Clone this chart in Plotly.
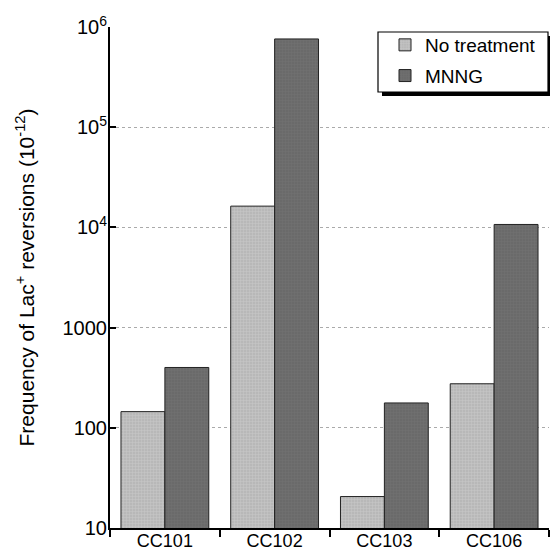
import plotly.graph_objects as go

categories = ["CC101", "CC102", "CC103", "CC106"]
no_treatment = [145, 16300, 20.6, 275]
mnng = [400, 760000, 177, 10700]
ytick_vals = [10, 100, 1000, 1e4, 1e5, 1e6]
ytick_text = ["10", "100", "1000", "10<sup>4</sup>", "10<sup>5</sup>", "10<sup>6</sup>"]

fig = go.Figure()
fig.add_trace(go.Bar(
    x=categories, y=no_treatment, name="No treatment", legendgroup="a",
    marker=dict(color="#b8b8b8", line=dict(color="#222", width=1),
                pattern=dict(shape="+", size=3, fgcolor="#d8d8d8", solidity=0.3)),
))
fig.add_trace(go.Bar(
    x=categories, y=mnng, name="MNNG", legendgroup="b",
    marker=dict(color="#6a6a6a", line=dict(color="#222", width=1),
                pattern=dict(shape="+", size=3, fgcolor="#7a7a7a", solidity=0.3)),
))

L, R, T, B = 110, 1, 27, 28
W, H = 550, 556
pw, ph = W - L - R, H - T - B

def px2x(px):
    return (px - L) / pw

def py2y(py):
    return (H - B - py) / ph

# legend box with shadow
fig.add_shape(type="rect", xref="paper", yref="paper",
              x0=px2x(382), x1=px2x(552), y0=py2y(96), y1=py2y(36),
              fillcolor="black", line=dict(width=0), layer="above")
fig.add_shape(type="rect", xref="paper", yref="paper",
              x0=px2x(378), x1=px2x(548), y0=py2y(92), y1=py2y(32),
              fillcolor="white", line=dict(color="black", width=1.2), layer="above")

fig.update_layout(
    width=W, height=H,
    margin=dict(l=L, r=R, t=T, b=B),
    paper_bgcolor="white", plot_bgcolor="white",
    barmode="group", bargap=0.2, bargroupgap=0,
    font=dict(family="Liberation Sans, Arial, sans-serif", color="black"),
    showlegend=True,
    legend=dict(x=px2x(385), y=py2y(26), xanchor="left", yanchor="top",
                bgcolor="rgba(0,0,0,0)", borderwidth=0,
                font=dict(size=19), itemwidth=30, tracegroupgap=3,
                traceorder="grouped"),
)
fig.update_xaxes(
    showline=True, linecolor="black", linewidth=2, automargin=False,
    ticks="outside", tickson="boundaries", ticklen=7, tickwidth=2, tickcolor="black",
    tickfont=dict(size=18), ticklabelstandoff=-5, showgrid=False, mirror=False,
)
fig.update_yaxes(
    type="log", range=[1, 6], automargin=False,
    tickvals=ytick_vals, ticktext=ytick_text,
    showline=True, linecolor="black", linewidth=2,
    ticks="inside", ticklen=6, tickwidth=2, tickcolor="black",
    tickfont=dict(size=20), ticklabelstandoff=-3,
    showgrid=True, gridcolor="#aaaaaa", griddash="dot", gridwidth=1,
    title=dict(text="Frequency of Lac<sup>+</sup> reversions (10<sup>-12</sup>)",
               font=dict(size=21), standoff=22),
    zeroline=False,
)
fig.write_html("out.html")
